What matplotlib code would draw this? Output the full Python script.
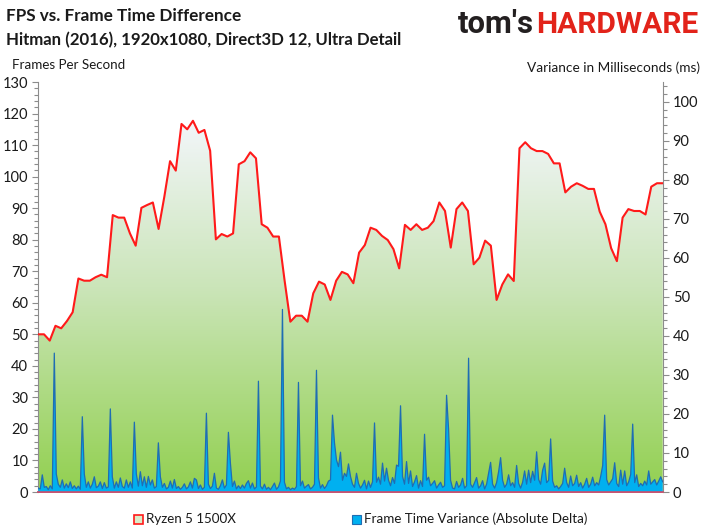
import numpy as np
import matplotlib
matplotlib.use('Agg')
import matplotlib.pyplot as plt
from matplotlib.patches import Rectangle, Polygon
from matplotlib.colors import LinearSegmentedColormap
from matplotlib.ticker import MultipleLocator

# ---------------- data ----------------
fps = [50.0, 50.0, 48.0, 52.7, 51.9, 54.2, 57.0, 67.7, 67.0, 67.0,
       68.1, 68.9, 68.1, 87.8, 87.0, 87.0, 82.0, 78.1, 90.1, 91.0,
       91.8, 83.4, 93.6, 104.9, 101.9, 116.7, 115.0, 117.7, 113.9, 114.8,
       108.2, 80.1, 81.8, 81.0, 82.0, 103.9, 104.9, 107.7, 105.8, 84.9,
       83.8, 81.0, 81.0, 67.0, 54.0, 55.9, 55.9, 54.0, 63.0, 66.7,
       65.8, 60.9, 67.0, 69.8, 69.0, 66.2, 75.9, 78.3, 83.8, 83.1,
       81.2, 79.9, 77.0, 70.9, 84.7, 83.1, 84.9, 83.1, 83.8, 85.9,
       91.8, 89.1, 77.5, 89.7, 91.8, 89.1, 72.2, 74.3, 79.7, 78.1,
       60.9, 65.8, 69.0, 66.9, 109.0, 110.9, 109.0, 108.1, 108.1, 107.2,
       104.2, 104.2, 95.0, 96.8, 97.9, 97.1, 96.1, 96.1, 88.9, 84.9,
       77.3, 73.2, 87.0, 89.7, 89.1, 89.1, 88.0, 96.8, 97.9, 97.9]

variance = [1.0, 0.8, 4.4, 1.2, 1.4, 0.6, 1.6, 0.8, 35.6, 4.6,
            2.0, 1.2, 3.1, 1.0, 2.1, 1.1, 2.6, 0.9, 1.6, 0.8,
            1.5, 0.7, 19.3, 4.6, 1.2, 2.6, 1.0, 2.0, 3.9, 1.1,
            1.5, 2.6, 0.9, 2.4, 1.0, 1.3, 21.3, 3.9, 1.0, 2.6,
            1.2, 3.6, 1.4, 1.0, 3.1, 1.2, 2.6, 1.0, 17.9, 4.6,
            1.5, 5.2, 1.6, 3.9, 1.2, 4.0, 1.8, 3.1, 1.0, 1.4,
            12.6, 3.9, 1.2, 2.2, 0.8, 1.2, 2.8, 1.0, 3.2, 0.9,
            1.4, 0.7, 1.2, 2.1, 0.8, 1.3, 2.6, 1.0, 3.5, 3.1,
            0.9, 1.8, 0.7, 1.2, 20.2, 2.0, 0.9, 1.5, 4.8, 1.0,
            0.7, 1.6, 3.1, 1.0, 1.8, 15.3, 7.4, 1.4, 2.8, 0.8,
            1.6, 0.9, 1.8, 1.0, 2.2, 2.9, 1.0, 2.3, 0.8, 1.3,
            28.4, 1.5, 0.8, 2.0, 0.7, 1.2, 0.6, 1.4, 2.3, 0.7,
            1.3, 2.8, 46.8, 2.5, 0.8, 1.2, 0.6, 1.0, 0.7, 1.4,
            28.1, 1.6, 2.8, 1.0, 1.5, 1.9, 0.8, 1.2, 2.0, 31.2,
            3.6, 1.0, 1.9, 0.9, 1.6, 2.8, 3.1, 19.7, 12.6, 8.2,
            6.5, 10.2, 3.0, 4.8, 4.0, 7.2, 4.0, 2.0, 1.2, 4.8,
            2.2, 1.0, 1.8, 3.0, 0.8, 2.8, 1.2, 2.6, 17.7, 2.5,
            3.8, 2.0, 7.4, 2.8, 6.1, 3.0, 1.6, 3.7, 2.2, 6.9,
            6.6, 22.1, 4.0, 2.0, 7.8, 2.2, 5.4, 1.4, 2.6, 4.2,
            1.0, 2.9, 1.4, 14.8, 3.0, 3.8, 1.6, 2.2, 2.9, 1.0,
            1.8, 2.5, 1.2, 1.6, 24.8, 16.2, 3.0, 1.0, 0.8, 2.7,
            1.2, 1.8, 3.5, 1.0, 1.6, 34.3, 2.0, 1.2, 2.4, 3.7,
            1.0, 1.6, 2.9, 0.8, 2.0, 4.8, 7.6, 2.0, 1.0, 2.4,
            5.2, 8.8, 3.0, 1.2, 2.0, 4.4, 1.6, 2.4, 1.2, 6.8,
            2.2, 1.0, 2.5, 5.4, 2.0, 5.6, 2.4, 5.3, 3.0, 10.3,
            3.2, 2.0, 5.6, 7.4, 2.4, 3.0, 13.6, 2.8, 1.2, 1.6,
            0.8, 1.4, 2.2, 6.1, 2.4, 1.2, 4.1, 1.6, 2.2, 4.3,
            1.4, 2.4, 1.0, 2.0, 3.5, 1.2, 2.0, 3.8, 1.6, 2.4,
            1.8, 4.0, 6.8, 19.7, 3.2, 1.8, 2.6, 3.4, 7.5, 2.2,
            1.4, 5.6, 2.0, 5.4, 1.6, 2.6, 4.5, 17.4, 2.4, 4.4,
            1.4, 2.2, 1.6, 2.8, 1.8, 5.4, 2.0, 2.6, 3.2, 1.8,
            2.8, 3.9, 2.6]

left_ticks = list(range(0, 131, 10))
right_ticks = list(range(0, 101, 10))
left_max = 130
right_max = 105.1

title1 = "FPS vs. Frame Time Difference"
title2 = "Hitman (2016), 1920x1080, Direct3D 12, Ultra Detail"
ylabel_left = "Frames Per Second"
ylabel_right = "Variance in Milliseconds (ms)"
series1 = "Ryzen 5 1500X"
series2 = "Frame Time Variance (Absolute Delta)"
logo1 = "tom's"
logo2 = "HARDWARE"

# ---------------- figure ----------------
FONT = ['Lato', 'DejaVu Sans']
plt.rcParams['font.family'] = FONT

W, H = 708, 531
fig = plt.figure(figsize=(W / 100, H / 100), dpi=100)
fig.patch.set_facecolor('white')
L, R, T, B = 38, 663, 82, 492
ax = fig.add_axes([L / W, 1 - B / H, (R - L) / W, (B - T) / H])

x = np.arange(len(fps))
ax.set_xlim(-0.05, len(fps) - 1 + 0.05)
ax.set_ylim(0, left_max)

cmap = LinearSegmentedColormap.from_list(
    'g', [(0, '#92d050'), (0.5, '#cbe5b9'), (0.9, '#f2f6f9'), (1, '#f7f9fc')])
grad = np.linspace(0, 1, 256).reshape(-1, 1)
im = ax.imshow(grad, extent=[x[0], x[-1], 0, left_max], origin='lower',
               aspect='auto', cmap=cmap, zorder=1, interpolation='bilinear')
verts = np.column_stack([np.r_[x, x[::-1]],
                         np.r_[np.array(fps), np.zeros(len(fps))]])
clip = Polygon(verts, closed=True, transform=ax.transData,
               facecolor='none', edgecolor='none')
ax.add_patch(clip)
im.set_clip_path(clip)
ax.plot(x, fps, color='#ff1a1a', lw=1.5, zorder=3)

ax2 = ax.twinx()
ax2.set_ylim(0, right_max)
xv = np.linspace(0, len(fps) - 1, len(variance))
ax2.fill_between(xv, variance, 0, facecolor='#00b0f0', edgecolor='none',
                 lw=0, zorder=2)
ax2.plot(xv, variance, color='#1f6db3', lw=0.9, zorder=3)

axis_gray = '#8c8c8c'
for a in (ax, ax2):
    a.spines['top'].set_visible(False)
    a.spines['left'].set_color(axis_gray)
    a.spines['right'].set_color(axis_gray)
    a.spines['bottom'].set_color('#c8506e')
    a.spines['bottom'].set_linewidth(1.2)
    a.set_xticks([])
    a.patch.set_alpha(0)
ax.spines['right'].set_visible(False)
ax2.spines['left'].set_visible(False)

ax.set_yticks(left_ticks)
ax.yaxis.set_minor_locator(MultipleLocator(2))
ax2.set_yticks(right_ticks)
ax2.yaxis.set_minor_locator(MultipleLocator(2))
for a in (ax, ax2):
    a.tick_params(axis='y', which='major', length=4, width=0.8,
                  color=axis_gray, labelsize=10.5, labelcolor='#1a1a1a', pad=3)
    a.tick_params(axis='y', which='minor', length=3, width=0.8,
                  color=axis_gray)

# ---------------- texts ----------------
fig.text(6 / W, 1 - 16 / H, title1, fontsize=12.3, weight='bold',
         color='#1a1a1a', va='center', ha='left')
fig.text(6 / W, 1 - 40 / H, title2, fontsize=12.1, weight='bold',
         color='#1a1a1a', va='center', ha='left')
fig.text(12 / W, 1 - 65 / H, ylabel_left, fontsize=9.6, color='#1a1a1a',
         va='center', ha='left')
fig.text(700 / W, 1 - 68 / H, ylabel_right, fontsize=9.8, color='#1a1a1a',
         va='center', ha='right')

# logo as real text, sized to fit its box
logo_fam = ['Roboto', 'DejaVu Sans']
lt1 = fig.text(458 / W, 1 - 33 / H, logo1, fontsize=22, weight='bold',
               color='#231f20', va='baseline', ha='left', family=logo_fam)
lt2 = fig.text(536 / W, 1 - 33 / H, logo2, fontsize=22, weight='bold',
               color='#e2231a', va='baseline', ha='left', family=logo_fam)
fig.canvas.draw()
rend = fig.canvas.get_renderer()
for t, target in ((lt1, 76), (lt2, 162)):
    w = t.get_window_extent(rend).width
    t.set_fontsize(t.get_fontsize() * target / w)

# ---------------- legend ----------------
fig.patches.append(Rectangle((134 / W, 1 - 524 / H), 9 / W, 9 / H,
                             transform=fig.transFigure, facecolor='#d9ecc9',
                             edgecolor='#ff1a1a', lw=1.2))
fig.text(146 / W, 1 - 519 / H, series1, fontsize=9.6, color='#1a1a1a',
         va='center', ha='left')
fig.patches.append(Rectangle((352 / W, 1 - 524 / H), 9 / W, 9 / H,
                             transform=fig.transFigure, facecolor='#00b0f0',
                             edgecolor='#1f6db3', lw=0.8))
fig.text(364 / W, 1 - 519 / H, series2, fontsize=9.6, color='#1a1a1a',
         va='center', ha='left')

fig.savefig('out.png', dpi=100)
